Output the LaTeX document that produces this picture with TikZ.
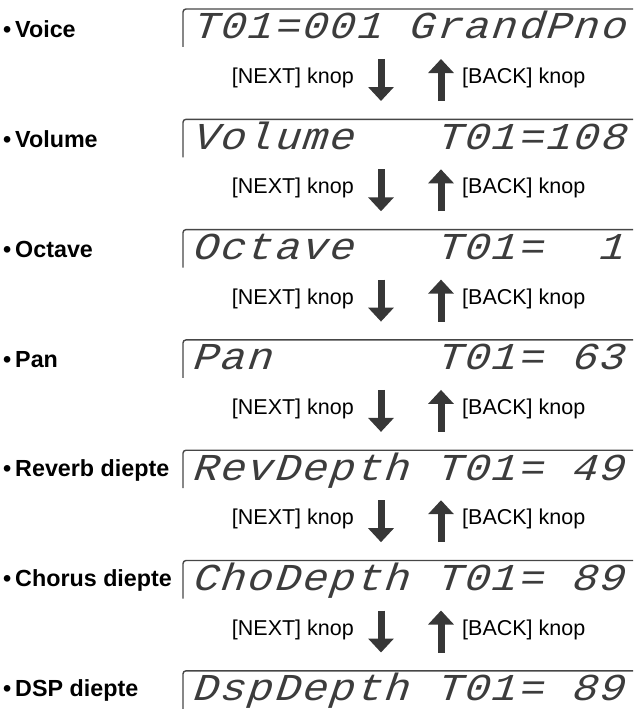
\documentclass[tikz,border=0pt]{standalone}
\usepackage{fontspec}
\setmainfont{Liberation Sans}
\newfontfamily\lcdfont{Liberation Mono}[LetterSpace=4.7,FakeStretch=1.12,FakeSlant=0.12]
\usepackage{tikz}
\usetikzlibrary{arrows.meta,positioning}
\definecolor{lcdcolor}{RGB}{60,60,60}
\definecolor{arrowcolor}{RGB}{55,55,55}
\definecolor{framecolor}{RGB}{70,70,70}

\tikzset{
  itemlabel/.style={anchor=west, inner sep=0pt, font=\fontsize{23.3}{27}\selectfont\bfseries},
  lcdtext/.style={anchor=base west, inner sep=0pt, text=lcdcolor,
                  font=\fontsize{38}{44}\lcdfont\itshape},
  knoplabel/.style={inner sep=0pt, font=\fontsize{21.5}{24}\selectfont},
  lcdframe/.style={draw=framecolor, line width=1.4pt, rounded corners=3pt},
  blockarrow/.style={draw=arrowcolor, line width=7pt,
                     -{Triangle[width=25pt,length=14pt]}}
}

\begin{document}
\begin{tikzpicture}[x=1pt,y=-1pt]
    \useasboundingbox (0,0) rectangle (633,709);
    % the seven display screens, one per parameter
    \foreach \k/\lbl/\lcd in {0/Voice/T01=001~GrandPno,
                              1/Volume/Volume~~~T01=108,
                              2/Octave/Octave~~~T01=~~1,
                              3/Pan/Pan~~~~~~T01=~63,
                              4/Reverb diepte/RevDepth~T01=~49,
                              5/Chorus diepte/ChoDepth~T01=~89,
                              6/DSP diepte/DspDepth~T01=~89} {
      \pgfmathsetmacro{\ya}{9+110.3*\k}
      \node[itemlabel] (item\k) at (3,\ya+20) {\textbullet\,\lbl};
      \draw[lcdframe] (183,\ya+38) -- (183,\ya) -- (633,\ya);
      \node[lcdtext] (lcd\k) at (193,\ya+30) {\lcd};
    }
    % NEXT / BACK buttons between the screens
    \foreach \k in {0,...,5} {
      \pgfmathsetmacro{\ya}{9+110.3*\k}
      \node[knoplabel, anchor=east] (next\k) at (354,\ya+69) {[NEXT] knop};
      \node[knoplabel, anchor=west] (back\k) at (462,\ya+69) {[BACK] knop};
      \coordinate (dntop\k) at (381,\ya+50);
      \coordinate (dnend\k) at (381,\ya+92);
      \coordinate (uptop\k) at (441,\ya+50);
      \coordinate (upend\k) at (441,\ya+92);
      \draw[blockarrow] (dntop\k) -- (dnend\k);
      \draw[blockarrow] (upend\k) -- (uptop\k);
    }
\end{tikzpicture}
\end{document}
